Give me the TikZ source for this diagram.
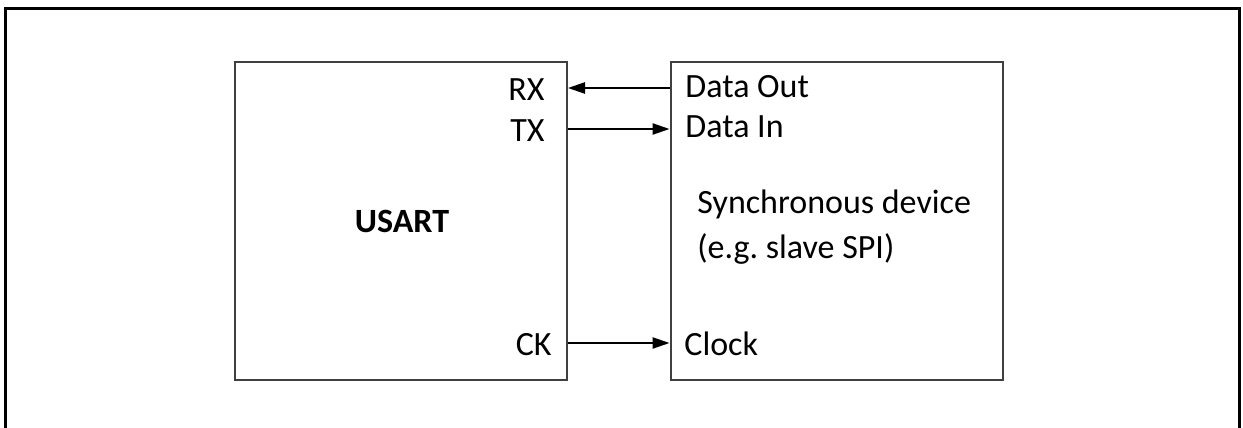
\documentclass[tikz,border=0pt]{standalone}
\usepackage{fontspec}
\setmainfont{Carlito}
\usetikzlibrary{arrows.meta}
\frenchspacing
\begin{document}
\begin{tikzpicture}[x=0.5pt,y=-0.5pt,
  frame/.style={line width=1.5pt,black},
  block/.style={draw=black!75,line width=1pt,rectangle,minimum width=166pt,minimum height=159pt,inner sep=0pt},
  pin/.style={font=\fontsize{17}{20}\selectfont,inner sep=0pt},
  caption/.style={font=\fontsize{17}{20}\selectfont,inner sep=0pt,anchor=base west},
  link/.style={line width=0.9pt,black,-{Triangle[length=8.5pt,width=5.6pt]}}]
\useasboundingbox (0,0) rectangle (1243,428);
% outer frame, open at the bottom
\draw[frame] (5,428) -- (5,8) -- (1239,8) -- (1239,428);
% the two blocks
\node[block] (usart) at (401,221) {};
\node[block] (dev) at (836.5,221) {};
% USART side pins
\node[pin,anchor=base east] (rx) at (545,100) {RX};
\node[pin,anchor=base east] (tx) at (545,141) {TX};
\node[pin,anchor=base east] (ck) at (552,355) {CK};
\node[pin,anchor=base,font=\fontsize{17}{20}\selectfont\bfseries] (name) at (402,232) {USART};
% device side pins
\node[caption] (dout) at (685,97) {Data Out};
\node[caption] (din) at (685,137) {Data In};
\node[caption] (clk) at (684,355) {Clock};
\node[caption] (desc1) at (697,213) {Synchronous device};
\node[caption] (desc2) at (697,258) {(e.g. slave SPI)};
% signal lines
\coordinate (rxa) at (usart.east |- 0,88);
\coordinate (rxb) at (dev.west |- 0,88);
\coordinate (txa) at (usart.east |- 0,129);
\coordinate (txb) at (dev.west |- 0,129);
\coordinate (cka) at (usart.east |- 0,343);
\coordinate (ckb) at (dev.west |- 0,343);
\draw[link] (rxb) -- (rxa);
\draw[link] (txa) -- (txb);
\draw[link] (cka) -- (ckb);
\end{tikzpicture}
\end{document}
